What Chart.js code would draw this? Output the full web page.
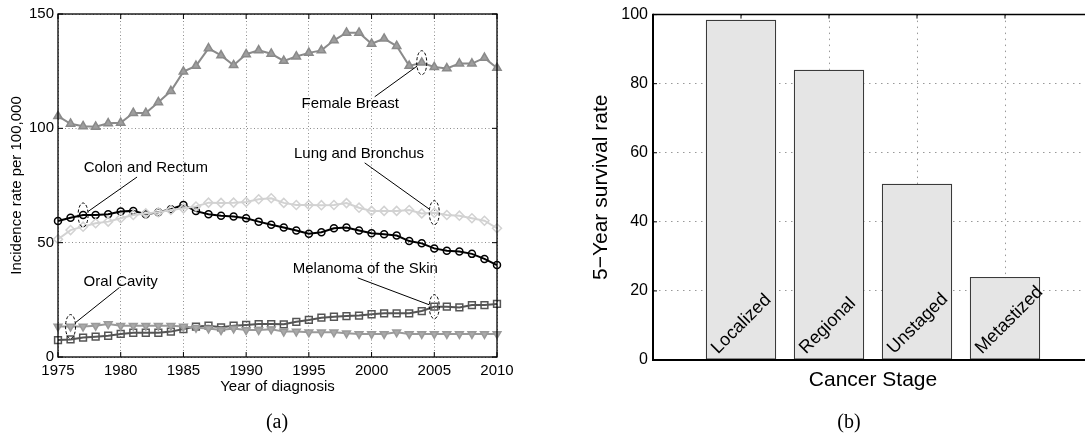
<!DOCTYPE html>
<html>
<head>
<meta charset="utf-8">
<title>Cancer incidence and survival</title>
<script src="https://cdn.jsdelivr.net/npm/chart.js@4.4.1/dist/chart.umd.min.js"></script>
<style>
  html, body { margin: 0; padding: 0; background: #fff; overflow: hidden; }
  body { position: relative; width: 1085px; height: 437px; }
  #incidenceChart { position: absolute; left: 0; top: 0; }
  #survivalChart { position: absolute; left: 560px; top: 0; }
  .caption {
    position: absolute; top: 411px; line-height: 20px;
    font-family: 'Liberation Serif', 'DejaVu Serif', serif; font-size: 20px;
    transform: translateX(-50%); color: #000;
  }
</style>
</head>
<body>
<canvas id="incidenceChart" width="540" height="437"></canvas>
<canvas id="survivalChart" width="540" height="437"></canvas>
<div class="caption" style="left:277px">(a)</div>
<div class="caption" style="left:849px">(b)</div>
<script>
// Incidence per 100,000 by year of diagnosis
const years = [1975, 1976, 1977, 1978, 1979, 1980, 1981, 1982, 1983, 1984,
               1985, 1986, 1987, 1988, 1989, 1990, 1991, 1992, 1993, 1994,
               1995, 1996, 1997, 1998, 1999, 2000, 2001, 2002, 2003, 2004,
               2005, 2006, 2007, 2008, 2009, 2010];
const femaleBreast = [105.3, 102.0, 100.9, 100.7, 102.2, 102.4, 106.7, 106.7, 111.4, 116.3,
                      124.8, 127.3, 135.0, 131.9, 127.6, 132.4, 134.1, 132.6, 129.5, 131.4,
                      133.0, 134.1, 138.5, 141.8, 141.8, 137.0, 139.2, 136.0, 127.3, 128.7,
                      126.8, 126.2, 128.3, 128.3, 130.8, 126.4];
const lungBronchus = [51.5, 55.5, 57.0, 58.5, 59.2, 60.7, 62.1, 62.8, 63.3, 64.3,
                      65.0, 65.8, 67.5, 67.4, 67.5, 67.8, 69.0, 69.4, 67.4, 66.5,
                      66.5, 66.4, 66.5, 67.3, 65.3, 63.9, 63.9, 63.9, 64.3, 62.8,
                      63.1, 62.1, 61.8, 60.7, 59.6, 56.3];
const colonRectum = [59.5, 60.9, 62.1, 62.1, 62.4, 63.6, 63.9, 62.4, 63.3, 64.6,
                     66.5, 63.8, 62.4, 61.8, 61.4, 60.7, 59.2, 57.8, 56.6, 55.3,
                     53.9, 54.6, 56.3, 56.6, 55.3, 54.1, 53.7, 53.1, 50.7, 49.7,
                     47.5, 46.5, 46.1, 45.1, 42.9, 40.2];
const melanomaSkin = [7.4, 7.7, 8.5, 8.9, 9.3, 10.1, 10.6, 10.6, 10.6, 11.1,
                      12.2, 13.3, 13.7, 13.0, 13.7, 14.0, 14.4, 14.4, 14.3, 15.4,
                      16.2, 17.2, 17.6, 17.9, 18.1, 18.7, 19.1, 19.1, 19.1, 20.1,
                      22.0, 22.0, 21.7, 22.7, 22.7, 23.2];
const oralCavity = [13.3, 13.3, 13.3, 13.7, 14.4, 13.7, 13.7, 13.7, 13.7, 13.7,
                    13.3, 12.8, 12.5, 11.8, 12.5, 11.8, 11.8, 12.1, 11.1, 11.1,
                    10.8, 10.8, 10.8, 10.4, 10.1, 10.1, 10.1, 10.8, 10.1, 10.1,
                    10.1, 10.1, 10.1, 10.1, 10.1, 10.1];

// 5-year survival by stage at diagnosis
const stages = ['Localized', 'Regional', 'Unstaged', 'Metastized'];
const survivalRate = [98.5, 84.0, 51.0, 24.0];

Chart.defaults.font.family = "'Liberation Sans', Arial, Helvetica, sans-serif";
Chart.defaults.color = '#000';

function toPoints(values) {
  return values.map(function(v, i) { return { x: years[i], y: v }; });
}

// circled points with a leader line to the series name (positions in data units)
const callouts = [
  { text: 'Female Breast', series: 'Female Breast', year: 2004, textX: 1998.3, textY: 110.7, fromX: 2000.25, fromY: 113.8 },
  { text: 'Colon and Rectum', series: 'Colon and Rectum', year: 1977, textX: 1982.0, textY: 82.7, fromX: 1981.3, fromY: 78.7 },
  { text: 'Lung and Bronchus', series: 'Lung and Bronchus', year: 2005, textX: 1999.0, textY: 89.0, fromX: 1999.45, fromY: 84.9 },
  { text: 'Oral Cavity', series: 'Oral Cavity', year: 1976, textX: 1980.0, textY: 32.8, fromX: 1979.9, fromY: 30.4 },
  { text: 'Melanoma of the Skin', series: 'Melanoma of the Skin', year: 2005, textX: 1999.5, textY: 38.5, fromX: 1998.9, fromY: 34.6 }
];

function strokeLine(ctx, x1, y1, x2, y2) {
  ctx.beginPath();
  ctx.moveTo(x1, y1);
  ctx.lineTo(x2, y2);
  ctx.stroke();
}

const incidenceExtras = {
  id: 'incidenceExtras',
  afterDatasetsDraw: function(chart) {
    const ctx = chart.ctx;
    const area = chart.chartArea;
    const xs = chart.scales.x, ys = chart.scales.y;
    ctx.save();
    ctx.strokeStyle = '#000';
    ctx.lineWidth = 1.3;
    ctx.strokeRect(area.left, area.top, area.right - area.left, area.bottom - area.top);

    ctx.lineWidth = 1;
    xs.ticks.forEach(function(t) {
      const px = xs.getPixelForValue(t.value);
      strokeLine(ctx, px, area.bottom, px, area.bottom - 5);
      strokeLine(ctx, px, area.top, px, area.top + 5);
    });
    ys.ticks.forEach(function(t) {
      const py = ys.getPixelForValue(t.value);
      strokeLine(ctx, area.left, py, area.left + 5, py);
      strokeLine(ctx, area.right, py, area.right - 5, py);
    });

    ctx.font = "15px 'Liberation Sans', Arial, sans-serif";
    ctx.fillStyle = '#000';
    ctx.textAlign = 'center';
    ctx.textBaseline = 'middle';
    const rx = 5, ry = 12;
    callouts.forEach(function(c) {
      const dsIndex = chart.data.datasets.findIndex(function(d) { return d.label === c.series; });
      const pt = chart.getDatasetMeta(dsIndex).data[years.indexOf(c.year)];
      const sx = xs.getPixelForValue(c.fromX), sy = ys.getPixelForValue(c.fromY);
      const dx = sx - pt.x, dy = sy - pt.y;
      const k = 1 / Math.sqrt((dx / rx) * (dx / rx) + (dy / ry) * (dy / ry));
      ctx.setLineDash([]);
      strokeLine(ctx, sx, sy, pt.x + dx * k, pt.y + dy * k);
      ctx.setLineDash([3, 2]);
      ctx.beginPath();
      ctx.ellipse(pt.x, pt.y, rx, ry, 0, 0, Math.PI * 2);
      ctx.stroke();
      ctx.fillText(c.text, xs.getPixelForValue(c.textX), ys.getPixelForValue(c.textY));
    });
    ctx.restore();
  }
};

function series(label, values, color, pointStyle, fill, radius, rotation) {
  return {
    label: label,
    data: toPoints(values),
    borderColor: color,
    borderWidth: 2,
    pointStyle: pointStyle,
    pointRadius: radius,
    pointRotation: rotation || 0,
    pointBorderColor: color,
    pointBackgroundColor: fill,
    pointBorderWidth: 1.5,
    tension: 0,
    clip: false
  };
}

new Chart(document.getElementById('incidenceChart'), {
  type: 'line',
  data: {
    // first dataset is drawn on top
    datasets: [
      series('Oral Cavity', oralCavity, '#9a9a9a', 'triangle', '#a9a9a9', 4.5, 180),
      series('Melanoma of the Skin', melanomaSkin, '#555555', 'rect', 'rgba(0,0,0,0)', 4.8),
      series('Lung and Bronchus', lungBronchus, '#d2d2d2', 'rectRot', 'rgba(0,0,0,0)', 4.5),
      series('Colon and Rectum', colonRectum, '#000000', 'circle', 'rgba(0,0,0,0)', 3.5),
      series('Female Breast', femaleBreast, '#8a8a8a', 'triangle', '#9e9e9e', 4.8)
    ]
  },
  options: {
    responsive: false,
    animation: false,
    events: [],
    layout: { padding: { top: 14, right: 43, bottom: 35, left: 0 } },
    plugins: { legend: { display: false }, tooltip: { enabled: false } },
    scales: {
      x: {
        type: 'linear',
        min: 1975,
        max: 2010,
        ticks: {
          stepSize: 5,
          padding: 5,
          font: { size: 15 },
          color: '#000',
          maxRotation: 0,
          callback: function(v) { return String(v); }
        },
        grid: { color: '#8c8c8c', lineWidth: 1, drawTicks: false },
        border: { display: false, dash: [1, 2.5] },
        title: { display: true, text: 'Year of diagnosis', font: { size: 15 }, color: '#000', padding: { top: 0, bottom: 6 } },
        afterFit: function(scale) { scale.height = 45; }
      },
      y: {
        min: 0,
        max: 150,
        ticks: { stepSize: 50, padding: 4, font: { size: 15 }, color: '#000' },
        grid: { color: '#8c8c8c', lineWidth: 1, drawTicks: false },
        border: { display: false, dash: [1, 2.5] },
        title: { display: true, text: 'Incidence rate per 100,000', font: { size: 15 }, color: '#000', padding: { top: 8, bottom: 0 } },
        afterFit: function(scale) { scale.width = 58; }
      }
    }
  },
  plugins: [incidenceExtras]
});

const survivalExtras = {
  id: 'survivalExtras',
  afterDatasetsDraw: function(chart) {
    const ctx = chart.ctx;
    const area = chart.chartArea;
    const xs = chart.scales.x, ys = chart.scales.y;
    ctx.save();
    ctx.strokeStyle = '#000';
    ctx.lineWidth = 1.5;
    strokeLine(ctx, area.left, area.top, area.right, area.top);
    strokeLine(ctx, area.right, area.top, area.right, area.bottom);
    ctx.lineWidth = 2;
    strokeLine(ctx, area.left, area.top - 0.75, area.left, area.bottom + 1);
    strokeLine(ctx, area.left - 1, area.bottom, area.right, area.bottom);

    ctx.lineWidth = 1;
    xs.ticks.forEach(function(t) {
      if (t.value <= xs.min || t.value >= xs.max) return;
      const px = xs.getPixelForValue(t.value);
      strokeLine(ctx, px, area.top, px, area.top + 4);
    });
    ys.ticks.forEach(function(t) {
      const py = ys.getPixelForValue(t.value);
      strokeLine(ctx, area.left, py, area.left + 4, py);
    });

    // stage names written up the inside of each bar
    ctx.font = "18px 'Liberation Sans', Arial, sans-serif";
    ctx.fillStyle = '#000';
    ctx.textAlign = 'left';
    ctx.textBaseline = 'alphabetic';
    chart.getDatasetMeta(0).data.forEach(function(bar, i) {
      ctx.save();
      ctx.translate(bar.x - 23, bar.base - 5);
      ctx.rotate(-Math.PI / 4);
      ctx.fillText(stages[i], 0, 0);
      ctx.restore();
    });
    ctx.restore();
  }
};

new Chart(document.getElementById('survivalChart'), {
  type: 'bar',
  data: {
    datasets: [{
      label: '5-Year survival rate',
      data: survivalRate.map(function(v, i) { return { x: i + 1, y: v }; }),
      backgroundColor: '#e5e5e5',
      borderColor: '#3a3a3a',
      borderWidth: 1.2,
      borderSkipped: false,
      barPercentage: 0.8,
      categoryPercentage: 1
    }]
  },
  options: {
    responsive: false,
    animation: false,
    events: [],
    layout: { padding: { top: 14, right: 7, bottom: 30, left: 0 } },
    plugins: { legend: { display: false }, tooltip: { enabled: false } },
    scales: {
      x: {
        type: 'linear',
        min: 0,
        max: 5,
        offset: false,
        ticks: { display: false, stepSize: 1 },
        grid: { offset: false, color: '#999999', lineWidth: 1, drawTicks: false },
        border: { display: false, dash: [1.5, 4.5] },
        title: { display: true, text: 'Cancer Stage', font: { size: 21 }, color: '#000', padding: { top: 0, bottom: 14 } },
        afterFit: function(scale) { scale.height = 47; }
      },
      y: {
        min: 0,
        max: 100,
        ticks: { stepSize: 20, padding: 5, font: { size: 16 }, color: '#000' },
        grid: { color: '#999999', lineWidth: 1, drawTicks: false },
        border: { display: false, dash: [1.5, 4.5] },
        title: { display: true, text: '5\u2212Year survival rate', font: { size: 21 }, color: '#000', padding: { top: 29, bottom: 0 } },
        afterFit: function(scale) { scale.width = 93; }
      }
    }
  },
  plugins: [survivalExtras]
});
</script>
</body>
</html>
